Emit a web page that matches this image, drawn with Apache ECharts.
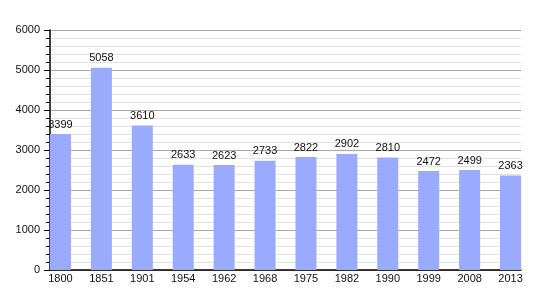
<!DOCTYPE html>
<html>
<head>
<meta charset="utf-8">
<script src="https://cdn.jsdelivr.net/npm/echarts@6/dist/echarts.min.js"></script>
<style>html,body{margin:0;padding:0;background:#fff;}#c{width:550px;height:300px;}</style>
</head>
<body>
<div id="c"></div>
<script>
const categories = ['1800','1851','1901','1954','1962','1968','1975','1982','1990','1999','2008','2013'];
const population = [3399, 5058, 3610, 2633, 2623, 2733, 2822, 2902, 2810, 2472, 2499, 2363];
const yMin = 0, yMax = 6000, yStep = 1000;

const font = 'Liberation Sans, Arial, sans-serif';
const chart = echarts.init(document.getElementById('c'), null, {renderer: 'canvas'});
chart.setOption({
  animation: false,
  grid: [
    {left: 50, right: 29, top: 30, bottom: 30},
    {left: 40, right: 19, top: 30, bottom: 30}
  ],
  xAxis: [
    {gridIndex: 0, type: 'category', data: categories, boundaryGap: true,
     axisLine: {show: true, lineStyle: {color: '#000', width: 1.5}},
     axisTick: {show: false}, axisLabel: {show: false}, splitLine: {show: false}},
    {gridIndex: 1, type: 'category', data: categories, boundaryGap: true,
     axisLine: {show: false}, axisTick: {show: false},
     axisLabel: {show: true, color: '#111', fontFamily: font, fontSize: 11, margin: 3},
     splitLine: {show: false}}
  ],
  yAxis: [
    {gridIndex: 0, type: 'value', min: yMin, max: yMax, interval: yStep,
     axisLine: {show: true, lineStyle: {color: '#000', width: 1.5}},
     axisTick: {show: true, length: 6, lineStyle: {color: '#000'}},
     minorTick: {show: true, splitNumber: 5, length: 4, lineStyle: {color: '#000'}},
     axisLabel: {color: '#111', fontFamily: font, fontSize: 11, margin: 10,
                 formatter: v => String(v)},
     splitLine: {show: true, lineStyle: {color: '#aaaaaa', width: 1}},
     minorSplitLine: {show: true, lineStyle: {color: '#e2e2e2', width: 1}}},
    {gridIndex: 1, type: 'value', min: yMin, max: yMax, interval: yStep, show: false,
     splitLine: {show: false}}
  ],
  series: [{
    type: 'bar', xAxisIndex: 1, yAxisIndex: 1,
    data: population, barWidth: 21,
    itemStyle: {color: '#99aaff'},
    label: {show: true, position: 'top', distance: 4, color: '#111', fontFamily: font, fontSize: 11}
  }]
});
</script>
</body>
</html>
